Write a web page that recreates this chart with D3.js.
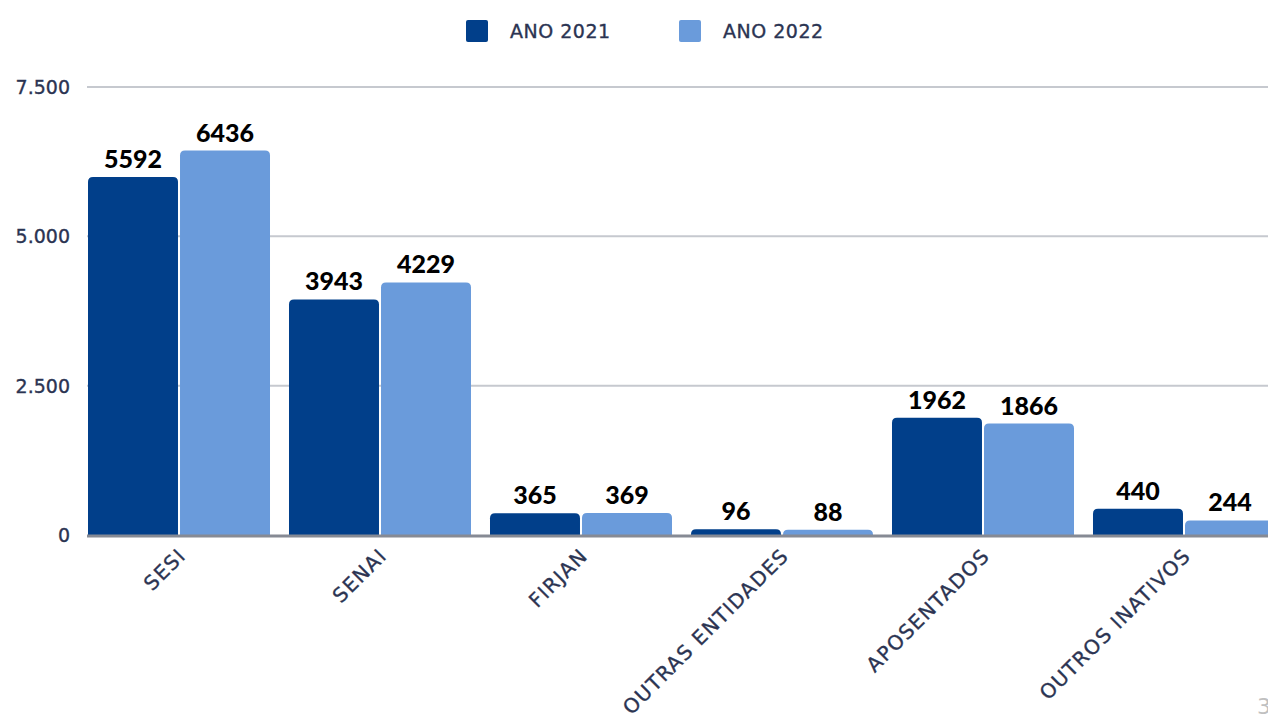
<!DOCTYPE html>
<html><head><meta charset="utf-8">
<script src="https://cdn.jsdelivr.net/npm/d3@7"></script>
<style>
html,body{margin:0;padding:0;background:#fff;overflow:hidden}
svg{display:block}
</style></head>
<body>
<svg id="chart" width="1268" height="718"></svg>
<script>
const categories = ["SESI","SENAI","FIRJAN","OUTRAS ENTIDADES","APOSENTADOS","OUTROS INATIVOS"];
const seriesNames = ["ANO 2021","ANO 2022"];
const values2021 = [5992, 3943, 365, 96, 1962, 440];
const values2022 = [6436, 4229, 369, 88, 1866, 244];
const labels2021 = ["5592","3943","365","96","1962","440"];
const labels2022 = ["6436","4229","369","88","1866","244"];
const yTicks = [0, 2500, 5000, 7500];
const yTickLabels = ["0","2.500","5.000","7.500"];
const colors = ["#013F8A","#6A9BDB"];

const svg = d3.select("#chart");
const textColor = "#2B3452";
const font = "'DejaVu Sans', sans-serif";

const x0 = d3.scaleBand().domain(categories).range([88, 1275]).paddingInner(0.0945).paddingOuter(0);
const x1 = d3.scaleBand().domain(seriesNames).range([0, x0.bandwidth()]).paddingInner(0.022);
const y = d3.scaleLinear().domain([0, 7500]).range([535, 87]);

// gridlines
svg.append("g").selectAll("line").data(yTicks.filter(d => d > 0)).join("line")
  .attr("x1", 87).attr("x2", 1268)
  .attr("y1", d => y(d)).attr("y2", d => y(d))
  .attr("stroke", "#c6c9cf").attr("stroke-width", 2);

// y tick labels
svg.append("g").selectAll("text").data(yTicks).join("text")
  .attr("x", 70).attr("y", d => y(d)).attr("dy", "0.36em")
  .attr("text-anchor", "end")
  .attr("font-family", font).attr("font-size", 19).attr("fill", textColor)
  .attr("stroke", textColor).attr("stroke-width", 0.35)
  .text((d, i) => yTickLabels[i]);

function roundTop(x, yTop, w, yBot, r) {
  r = Math.min(r, (yBot - yTop), w / 2);
  return `M${x},${yBot}V${yTop + r}Q${x},${yTop} ${x + r},${yTop}H${x + w - r}Q${x + w},${yTop} ${x + w},${yTop + r}V${yBot}Z`;
}

const series = [values2021, values2022];
const labels = [labels2021, labels2022];
series.forEach((vals, si) => {
  const g = svg.append("g");
  g.selectAll("path").data(categories).join("path")
    .attr("d", (c, i) => roundTop(x0(c) + x1(seriesNames[si]), y(vals[i]), x1.bandwidth(), y(0), 5))
    .attr("fill", colors[si]);
  g.selectAll("text").data(categories).join("text")
    .attr("x", (c) => x0(c) + x1(seriesNames[si]) + x1.bandwidth() / 2)
    .attr("y", (c, i) => y(vals[i]) - 9)
    .attr("text-anchor", "middle")
    .attr("font-family", "Lato, sans-serif").attr("font-weight", 900)
    .attr("font-size", 25).attr("fill", "#000")
    .text((c, i) => labels[si][i]);
});

// baseline
svg.append("line").attr("x1", 87).attr("x2", 1268).attr("y1", y(0) + 1).attr("y2", y(0) + 1)
  .attr("stroke", "#868a94").attr("stroke-width", 3);

// x labels
svg.append("g").selectAll("text").data(categories).join("text")
  .attr("transform", c => `translate(${x0(c) + x0.bandwidth() / 2 + 8},${557}) rotate(-45)`)
  .attr("text-anchor", "end")
  .attr("font-family", font).attr("font-size", 20).attr("letter-spacing", 1.3)
  .attr("fill", textColor).attr("stroke", textColor).attr("stroke-width", 0.35)
  .text(c => c);

// legend
const legendX = [466, 679];
const lg = svg.append("g");
seriesNames.forEach((s, i) => {
  lg.append("rect").attr("x", legendX[i]).attr("y", 20).attr("width", 22).attr("height", 22)
    .attr("rx", 2).attr("fill", colors[i]);
  lg.append("text").attr("x", legendX[i] + 44).attr("y", 38)
    .attr("font-family", font).attr("font-size", 19).attr("letter-spacing", 0.5)
    .attr("fill", textColor).attr("stroke", textColor).attr("stroke-width", 0.35).text(s);
});

// page number (partially visible at the page edge)
svg.append("text").attr("x", 1257).attr("y", 714)
  .attr("font-family", font).attr("font-size", 22).attr("fill", "#c0c0c0").text("3");
</script>
</body></html>
